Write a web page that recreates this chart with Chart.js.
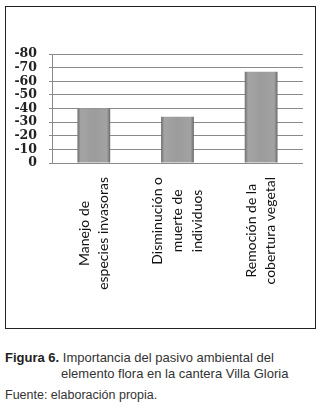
<!DOCTYPE html>
<html>
<head>
<meta charset="utf-8">
<script src="https://cdn.jsdelivr.net/npm/chart.js@4/dist/chart.umd.min.js"></script>
<style>
    html, body { margin: 0; padding: 0; background: #fff; }
    body { width: 324px; height: 412px; position: relative; overflow: hidden; }
    #box {
        position: absolute; left: 5px; top: 6px;
        width: 309px; height: 321px;
        border: 1px solid #222;
    }
    #box canvas { display: block; }
    .cap {
        position: absolute; left: 5px;
        font-family: "Liberation Sans", Arial, sans-serif;
        color: #333;
        white-space: nowrap;
    }
    #cap1 { top: 350px; font-size: 13px; line-height: 16px; }
    #cap1 b { color: #222; }
    #cap1 .indent { padding-left: 56px; }
    #cap2 { top: 388px; font-size: 12.5px; }
</style>
</head>
<body>
<div id="box"><canvas id="chart" width="309" height="321"></canvas></div>
<div class="cap" id="cap1"><b>Figura 6.</b> Importancia del pasivo ambiental del<br><span class="indent">elemento flora en la cantera Villa Gloria</span></div>
<div class="cap" id="cap2">Fuente: elaboración propia.</div>

<script>
// data
const categories = [
    ['Manejo de', 'especies invasoras'],
    ['Disminución o', 'muerte de', 'individuos'],
    ['Remoción de la', 'cobertura vegetal']
];
const values = [40, 34, 67];
const yTickLabels = ['0', '-10', '-20', '-30', '-40', '-50', '-60', '-70', '-80'];

// bevelled grey bars like the Excel original
function barFill(context) {
    const chart = context.chart;
    const xs = chart.scales.x;
    if (!chart.chartArea || !xs) return '#959595';
    const cx = xs.getPixelForValue(context.dataIndex);
    const w = (xs.width / categories.length) * 0.8 * 0.49;
    const g = chart.ctx.createLinearGradient(cx - w / 2, 0, cx + w / 2, 0);
    g.addColorStop(0, '#6e6e6e');
    g.addColorStop(0.1, '#a4a4a4');
    g.addColorStop(0.5, '#9c9c9c');
    g.addColorStop(0.9, '#a2a2a2');
    g.addColorStop(1, '#6a6a6a');
    return g;
}

// Excel centres the rotated label block on the tick and each line inside it
const centerLines = {
    id: 'centerLines',
    beforeDraw(chart) {
        const scale = chart.scales.x;
        const ctx = chart.ctx;
        scale.getLabelItems().forEach(item => {
            if (item._done) return;
            const lines = Array.isArray(item.label) ? item.label : [item.label];
            ctx.save();
            ctx.font = item.font.string;
            const w = Math.max(...lines.map(l => ctx.measureText(l).width));
            ctx.restore();
            const lh = item.font.lineHeight;
            const [tx, ty] = item.options.translation;
            item.options.textAlign = 'center';
            item.options.translation = [tx - (lines.length - 1) * lh / 2, ty + w / 2];
            item._done = true;
        });
    }
};

new Chart(document.getElementById('chart'), {
    type: 'bar',
    data: {
        labels: categories,
        datasets: [{
            data: values,
            backgroundColor: barFill,
            borderWidth: 0,
            barPercentage: 0.49,
            categoryPercentage: 0.8
        }]
    },
    options: {
        responsive: false,
        animation: false,
        layout: { padding: { top: 47, right: 4, left: 0, bottom: 0 } },
        plugins: { legend: { display: false }, tooltip: { enabled: false } },
        scales: {
            x: {
                grid: { display: false, drawTicks: false },
                border: { display: false },
                ticks: {
                    autoSkip: false,
                    maxRotation: 90,
                    minRotation: 90,
                    padding: 14,
                    color: '#111',
                    font: { family: 'Lato, "Noto Sans", sans-serif', size: 14, lineHeight: 1.4 }
                },
                afterFit: s => { s.height = 165; }
            },
            y: {
                min: 0,
                max: 80,
                grid: { color: '#8a8a8a', lineWidth: 1, tickLength: 3 },
                border: { display: true, color: '#8a8a8a' },
                ticks: {
                    autoSkip: false,
                    stepSize: 10,
                    padding: 12,
                    color: '#222',
                    font: { family: '"DejaVu Serif", "Liberation Serif", serif', size: 12.5, weight: 'bold', lineHeight: 1 },
                    callback: (v, i) => yTickLabels[i]
                },
                afterFit: s => { s.width = 46; }
            }
        }
    },
    plugins: [centerLines]
});
</script>
</body>
</html>
